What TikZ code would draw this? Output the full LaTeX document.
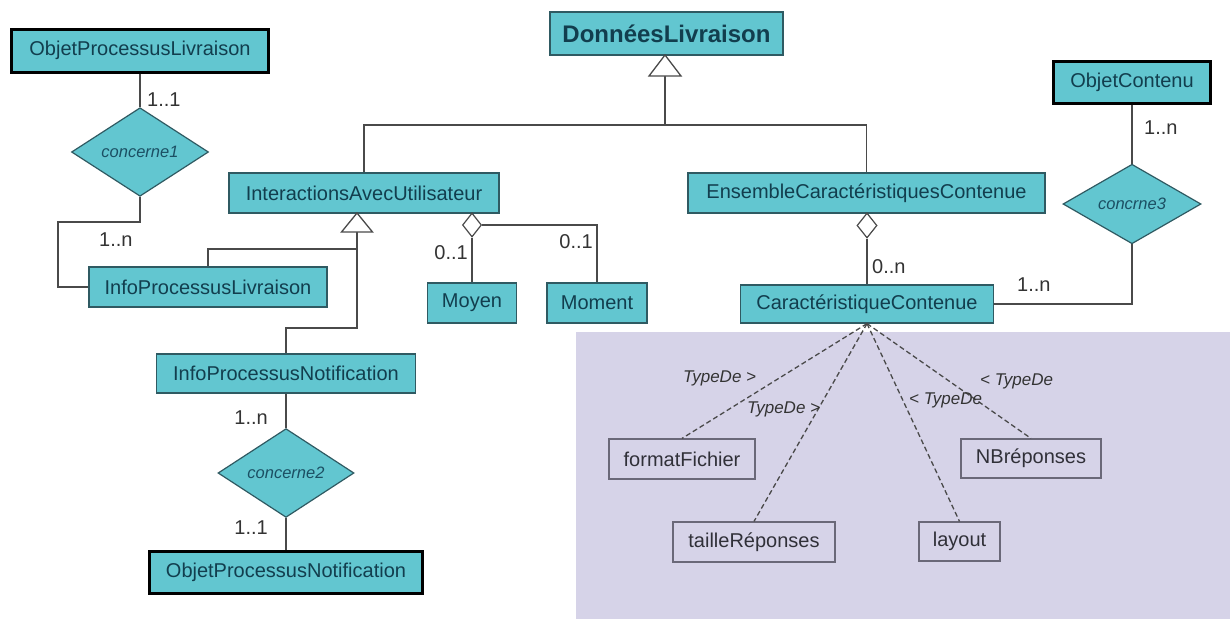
\documentclass[tikz,border=0pt]{standalone}
\usepackage{fontspec}
\setmainfont{Liberation Sans}
\usetikzlibrary{shapes.geometric}
\definecolor{cy}{HTML}{62C6D0}
\definecolor{clsb}{HTML}{2F5A62}
\definecolor{clst}{HTML}{123E4E}
\definecolor{relt}{HTML}{1B4F63}
\definecolor{lc}{HTML}{4A4A4A}
\definecolor{lav}{HTML}{D6D3E8}
\definecolor{attrb}{HTML}{6A6878}
\definecolor{attrt}{HTML}{303038}
\definecolor{multc}{HTML}{333333}
\begin{document}
\begin{tikzpicture}[x=1pt,y=-1pt,
  cls/.style={rectangle, draw=clsb, line width=1.2pt, fill=cy, text=clst,
    font=\fontsize{20}{24}\selectfont, inner sep=0pt},
  objb/.style={cls, draw=black, line width=3pt},
  rel/.style={diamond, draw=clsb, line width=1.2pt, fill=cy, text=relt,
    font=\fontsize{16.5}{20}\selectfont\itshape, inner sep=0pt},
  aggr/.style={diamond, draw=lc, line width=1.2pt, fill=white, inner sep=0pt,
    minimum width=19pt, minimum height=24pt},
  attr/.style={rectangle, draw=attrb, line width=1.2pt, fill=lav, text=attrt,
    font=\fontsize{20}{24}\selectfont, inner sep=0pt},
  conn/.style={draw=lc, line width=1.3pt},
  dep/.style={conn, dash pattern=on 5pt off 3pt},
  mult/.style={text=multc, font=\fontsize{20}{24}\selectfont, inner sep=0pt},
  tlab/.style={text=multc, font=\fontsize{17}{20}\selectfont\itshape, inner sep=0pt}]
\useasboundingbox (0,0) rectangle (1230,619);
\fill[white] (0,0) rectangle (1230,619);
\fill[lav] (576,332) rectangle (1230,619);

% classes
\node[objb, minimum width=257pt, minimum height=43pt] (OPL) at (140,50.5) {ObjetProcessusLivraison};
\node[rel, minimum width=137pt, minimum height=50pt] (c1) at (140,152) {concerne1};
\node[cls, minimum width=238pt, minimum height=40pt] (IPL) at (208,287) {InfoProcessusLivraison};
\node[cls, minimum width=270pt, minimum height=40pt] (IAU) at (364,193) {InteractionsAvecUtilisateur};
\node[cls, minimum width=259pt, minimum height=39pt] (IPN) at (286,373.5) {InfoProcessusNotification};
\node[rel, minimum width=136pt, minimum height=52pt] (c2) at (286,473) {concerne2};
\node[objb, minimum width=273pt, minimum height=42pt] (OPN) at (286,572) {ObjetProcessusNotification};
\node[cls, minimum width=233pt, minimum height=43pt, font=\fontsize{24}{28}\selectfont\bfseries] (DL) at (666.5,33.5) {DonnéesLivraison};
\node[cls, minimum width=357pt, minimum height=40pt] (ECC) at (866.5,193) {EnsembleCaractéristiquesContenue};
\node[cls, minimum width=253pt, minimum height=38pt] (CC) at (867,304) {CaractéristiqueContenue};
\node[objb, minimum width=157pt, minimum height=42pt] (OC) at (1132,82) {ObjetContenu};
\node[rel, minimum width=138pt, minimum height=52pt] (c3) at (1132,204) {concrne3};
\node[cls, minimum width=89pt, minimum height=40pt] (Moyen) at (472,303) {Moyen};
\node[cls, minimum width=100pt, minimum height=40pt] (Moment) at (597,303) {Moment};

% attributes
\node[attr, minimum width=146pt, minimum height=40pt] (FF) at (682,459) {formatFichier};
\node[attr, minimum width=162pt, minimum height=40pt] (TR) at (754,542) {tailleRéponses};
\node[attr, minimum width=81pt, minimum height=39pt] (LY) at (959.5,541.5) {layout};
\node[attr, minimum width=140pt, minimum height=39pt] (NB) at (1031,458.5) {NBréponses};

% generalization DonneesLivraison
\coordinate (gDL) at (665,125);
\coordinate (tDL) at (665,55);
\draw[conn] (IAU.north) |- (gDL) -| (ECC.north);
\draw[conn] (gDL) -- (665,76);
\draw[conn, fill=white, line join=miter] (tDL) -- ++(16,21) -- ++(-32,0) -- cycle;

% generalization InteractionsAvecUtilisateur
\coordinate (gIAU) at (357,249);
\coordinate (tIAU) at (357,213);
\draw[conn] (IPL.north) |- (gIAU);
\draw[conn] (IPN.north) |- (357,328) -- (357,232);
\draw[conn, fill=white, line join=miter] (tIAU) -- ++(15.5,19) -- ++(-31,0) -- cycle;

% aggregations
\node[aggr] (a1) at (472,225) {};
\draw[conn] (a1.south) -- (Moyen.north);
\draw[conn] (a1.east) -| (Moment.north);
\node[aggr, minimum width=20pt, minimum height=25pt] (a2) at (867,225.5) {};
\draw[conn] (a2.south) -- (CC.north);

% associations
\draw[conn] (OPL.south) -- (c1.north);
\draw[conn] (c1.south) |- (58,222) |- (IPL.west);
\draw[conn] (IPN.south) -- (c2.north);
\draw[conn] (c2.south) -- (OPN.north);
\draw[conn] (OC.south) -- (c3.north);
\draw[conn] (c3.south) |- (CC.east);

% dependencies
\draw[dep] (CC.south) -- (FF.north);
\draw[dep] (CC.south) -- (TR.north);
\draw[dep] (CC.south) -- (LY.north);
\draw[dep] (CC.south) -- (NB.north);

% multiplicities
\node[mult, anchor=west] (m1) at (147,100) {1..1};
\node[mult, anchor=west] (m2) at (99,240) {1..n};
\node[mult, anchor=east] (m3) at (268,418) {1..n};
\node[mult, anchor=east] (m4) at (268,528) {1..1};
\node[mult, anchor=east] (m5) at (468,253) {0..1};
\node[mult, anchor=east] (m6) at (593,242) {0..1};
\node[mult, anchor=west] (m7) at (872,267) {0..n};
\node[mult, anchor=west] (m8) at (1144,128) {1..n};
\node[mult, anchor=west] (m9) at (1017,285) {1..n};

% TypeDe labels
\node[tlab, anchor=west] (t1) at (683,378) {TypeDe >};
\node[tlab, anchor=west] (t2) at (747,409) {TypeDe >};
\node[tlab, anchor=west] (t3) at (980,381) {< TypeDe};
\node[tlab, anchor=west] (t4) at (909,400) {< TypeDe};
\end{tikzpicture}
\end{document}
